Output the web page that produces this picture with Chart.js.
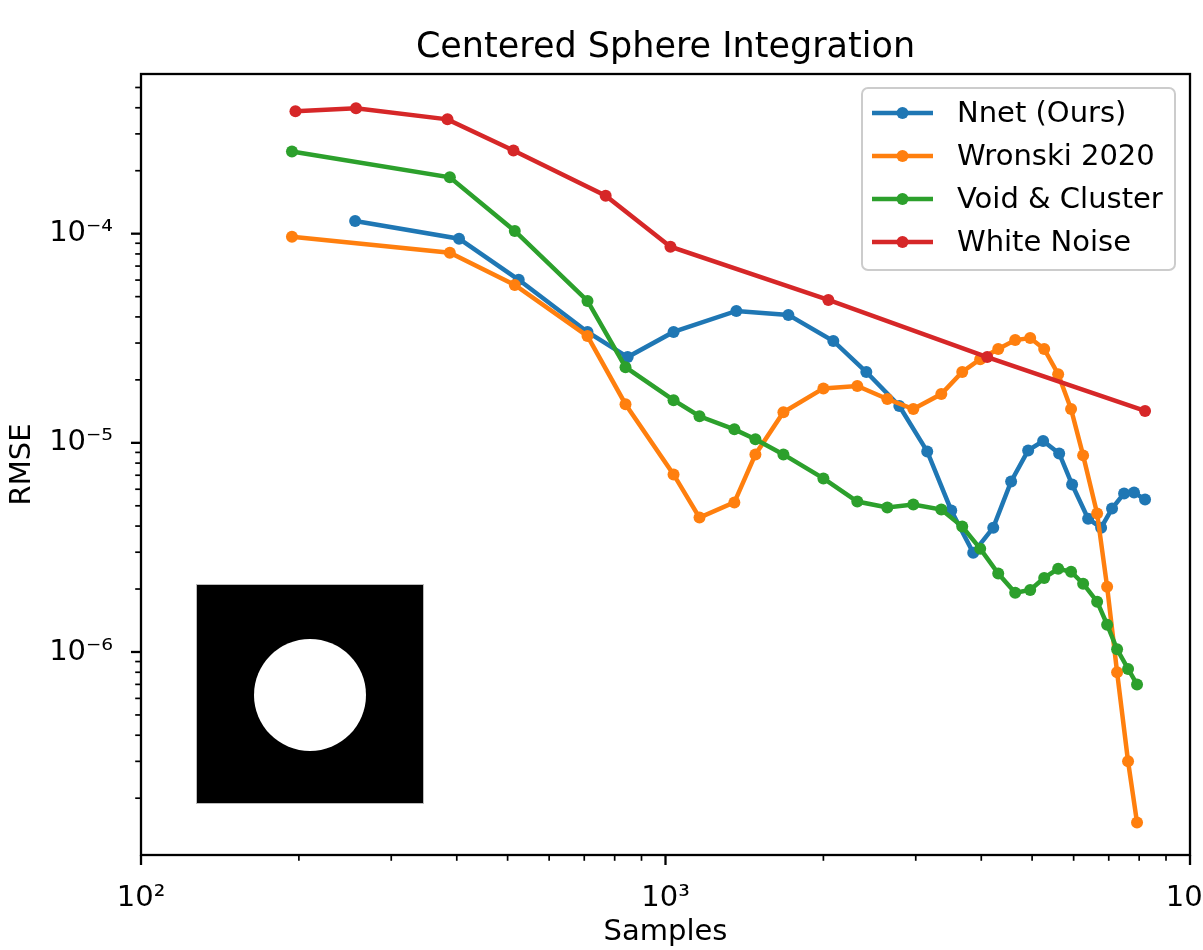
<!DOCTYPE html>
<html>
<head>
<meta charset="utf-8">
<title>Centered Sphere Integration</title>
<script src="https://cdn.jsdelivr.net/npm/chart.js@4.4.1/dist/chart.umd.min.js"></script>
<style>
  body { margin: 0; background: #fff; }
  canvas { display: block; }
</style>
</head>
<body>
<canvas id="chart" width="1203" height="950"></canvas>
<script>
// values (log-log)
const nnetSamples = [256, 404, 525, 710, 847, 1036, 1365, 1715, 2089, 2415, 2791, 3155, 3506,
  3861, 4216, 4560, 4914, 5248, 5631, 5960, 6394, 6769, 7102, 7487, 7822, 8209];
const nnetRmse = [1.15e-4, 9.46e-5, 6.02e-5, 3.39e-5, 2.57e-5, 3.39e-5, 4.27e-5, 4.09e-5, 3.07e-5,
  2.18e-5, 1.50e-5, 9.1e-6, 4.75e-6, 2.98e-6, 3.93e-6, 6.54e-6, 9.2e-6, 1.02e-5, 8.9e-6,
  6.32e-6, 4.34e-6, 3.93e-6, 4.85e-6, 5.73e-6, 5.79e-6, 5.36e-6];

// Wronski and Void & Cluster share the same sample counts
const maskSamples = [194, 388, 516, 710, 839, 1036, 1161, 1353, 1484, 1678, 2000, 2321, 2648,
  2968, 3356, 3679, 3981, 4309, 4642, 4958, 5272, 5606, 5933, 6255, 6652, 6950, 7261, 7619, 7925];
const wronskiRmse = [9.67e-5, 8.1e-5, 5.69e-5, 3.24e-5, 1.53e-5, 7.06e-6, 4.39e-6, 5.19e-6, 8.8e-6,
  1.40e-5, 1.82e-5, 1.87e-5, 1.62e-5, 1.45e-5, 1.71e-5, 2.18e-5, 2.51e-5, 2.81e-5, 3.10e-5,
  3.17e-5, 2.81e-5, 2.13e-5, 1.45e-5, 8.71e-6, 4.59e-6, 2.05e-6, 8.0e-7, 3.0e-7, 1.53e-7];
const voidRmse = [2.47e-4, 1.86e-4, 1.03e-4, 4.77e-5, 2.30e-5, 1.60e-5, 1.34e-5, 1.16e-5, 1.04e-5,
  8.8e-6, 6.76e-6, 5.24e-6, 4.91e-6, 5.07e-6, 4.80e-6, 3.98e-6, 3.12e-6, 2.37e-6, 1.92e-6,
  1.98e-6, 2.26e-6, 2.50e-6, 2.42e-6, 2.12e-6, 1.74e-6, 1.35e-6, 1.03e-6, 8.3e-7, 7.0e-7];

const whiteSamples = [197, 257, 384, 513, 769, 1022, 2044, 4105, 8209];
const whiteRmse = [3.85e-4, 3.98e-4, 3.52e-4, 2.50e-4, 1.52e-4, 8.66e-5, 4.82e-5, 2.57e-5, 1.42e-5];

const seriesNames = ['Nnet (Ours)', 'Wronski 2020', 'Void & Cluster', 'White Noise'];
const seriesColors = ['#1f77b4', '#ff7f0e', '#2ca02c', '#d62728'];

const xRange = [100, 10000];
const yRange = [1.07e-7, 5.8e-4];

const FONT = 'DejaVu Sans';
const SUP = { '-': '\u207b', '0': '\u2070', '1': '\u00b9', '2': '\u00b2', '3': '\u00b3',
  '4': '\u2074', '5': '\u2075', '6': '\u2076', '7': '\u2077', '8': '\u2078', '9': '\u2079' };

function pairs(xs, ys) {
  return xs.map((x, i) => ({ x: x, y: ys[i] }));
}

function logTicks(min, max) {
  const out = [];
  for (let e = Math.floor(Math.log10(min)); e <= Math.ceil(Math.log10(max)); e++) {
    for (let m = 1; m <= 9; m++) {
      const v = m * Math.pow(10, e);
      if (v >= min * 0.9999 && v <= max * 1.0001) out.push({ value: v, major: m === 1 });
    }
  }
  return out;
}

function powLabel(v) {
  const e = Math.log10(v);
  if (Math.abs(e - Math.round(e)) > 1e-6) return '';
  return '10' + String(Math.round(e)).split('').map(c => SUP[c]).join('');
}

// frame, tick marks, inset picture and legend box (matplotlib look)
const decorPlugin = {
  id: 'decor',
  afterDatasetsDraw(chart) {
    const ctx = chart.ctx;
    const a = chart.chartArea;
    ctx.save();

    // inset: black square with a centered white disc
    const ix = a.left + 56, iy = a.bottom - 270, iw = 226, ih = 218;
    ctx.fillStyle = '#000';
    ctx.fillRect(ix, iy, iw, ih);
    ctx.strokeStyle = '#bbbbbb';
    ctx.lineWidth = 1;
    ctx.strokeRect(ix - 0.5, iy - 0.5, iw + 1, ih + 1);
    ctx.fillStyle = '#fff';
    ctx.beginPath();
    ctx.arc(ix + 113, iy + 110, 56, 0, Math.PI * 2);
    ctx.fill();

    // frame
    ctx.strokeStyle = '#000';
    ctx.lineWidth = 2.3;
    ctx.strokeRect(a.left, a.top, a.right - a.left, a.bottom - a.top);

    // ticks
    const xs = chart.scales.x, ys = chart.scales.y;
    xs.ticks.forEach(t => {
      const px = xs.getPixelForValue(t.value);
      const len = t.major ? 10 : 5.8;
      ctx.lineWidth = t.major ? 2.3 : 1.7;
      ctx.beginPath();
      ctx.moveTo(px, a.bottom);
      ctx.lineTo(px, a.bottom + len);
      ctx.stroke();
    });
    ys.ticks.forEach(t => {
      const py = ys.getPixelForValue(t.value);
      const len = t.major ? 10 : 5.8;
      ctx.lineWidth = t.major ? 2.3 : 1.7;
      ctx.beginPath();
      ctx.moveTo(a.left, py);
      ctx.lineTo(a.left - len, py);
      ctx.stroke();
    });

    // legend
    const bw = 313, bh = 182;
    const bx = a.right - 15 - bw, by = a.top + 14;
    ctx.fillStyle = 'rgba(255,255,255,0.8)';
    ctx.strokeStyle = '#cccccc';
    ctx.lineWidth = 2;
    ctx.beginPath();
    ctx.roundRect(bx, by, bw, bh, 6);
    ctx.fill();
    ctx.stroke();
    ctx.font = '29px "' + FONT + '"';
    ctx.textBaseline = 'middle';
    ctx.textAlign = 'left';
    chart.data.datasets.forEach((ds, i) => {
      const ry = by + 25 + i * 43;
      ctx.strokeStyle = ds.borderColor;
      ctx.lineWidth = 4.5;
      ctx.beginPath();
      ctx.moveTo(bx + 10, ry);
      ctx.lineTo(bx + 71, ry);
      ctx.stroke();
      ctx.fillStyle = ds.borderColor;
      ctx.beginPath();
      ctx.arc(bx + 40.5, ry, 6, 0, Math.PI * 2);
      ctx.fill();
      ctx.fillStyle = '#000';
      ctx.fillText(ds.label, bx + 95, ry + 1);
    });

    ctx.restore();
  }
};

const rmseSets = [pairs(nnetSamples, nnetRmse), pairs(maskSamples, wronskiRmse),
  pairs(maskSamples, voidRmse), pairs(whiteSamples, whiteRmse)];

const chart = new Chart(document.getElementById('chart'), {
  type: 'line',
  data: {
    datasets: rmseSets.map((d, i) => ({
      label: seriesNames[i],
      data: d,
      borderColor: seriesColors[i],
      backgroundColor: seriesColors[i],
      pointBackgroundColor: seriesColors[i],
      borderWidth: 4.5,
      pointRadius: 6,
      pointBorderWidth: 0,
      tension: 0,
      fill: false,
      order: 4 - i // later series drawn on top, like matplotlib
    }))
  },
  options: {
    responsive: false,
    animation: false,
    devicePixelRatio: 1,
    layout: { padding: { left: 0, right: 13, top: 0, bottom: 0 } },
    plugins: {
      legend: { display: false },
      tooltip: { enabled: false },
      title: {
        display: true,
        fullSize: false,
        text: 'Centered Sphere Integration',
        color: '#000',
        font: { family: FONT, size: 35, weight: 'normal' },
        padding: { top: 27, bottom: 5 }
      }
    },
    scales: {
      x: {
        type: 'logarithmic',
        min: xRange[0],
        max: xRange[1],
        grid: { display: false },
        border: { display: false },
        afterBuildTicks: s => { s.ticks = logTicks(xRange[0], xRange[1]); },
        afterFit: s => { s.height = 95; s.paddingLeft = 0; s.paddingRight = 0; },
        ticks: {
          autoSkip: false,
          maxRotation: 0,
          padding: 18,
          color: '#000',
          font: { family: FONT, size: 29 },
          callback: v => powLabel(v)
        },
        title: {
          display: true,
          text: 'Samples',
          color: '#000',
          font: { family: FONT, size: 29 },
          padding: { top: 0, bottom: 0 }
        }
      },
      y: {
        type: 'logarithmic',
        min: yRange[0],
        max: yRange[1],
        grid: { display: false },
        border: { display: false },
        afterBuildTicks: s => { s.ticks = logTicks(yRange[0], yRange[1]); },
        afterFit: s => { s.width = 141; s.paddingTop = 0; s.paddingBottom = 0; },
        ticks: {
          autoSkip: false,
          padding: 20,
          color: '#000',
          font: { family: FONT, size: 29 },
          callback: v => powLabel(v)
        },
        title: {
          display: true,
          text: 'RMSE',
          color: '#000',
          font: { family: FONT, size: 29 },
          padding: { top: 5, bottom: 5 }
        }
      }
    }
  },
  plugins: [decorPlugin]
});
</script>
</body>
</html>
